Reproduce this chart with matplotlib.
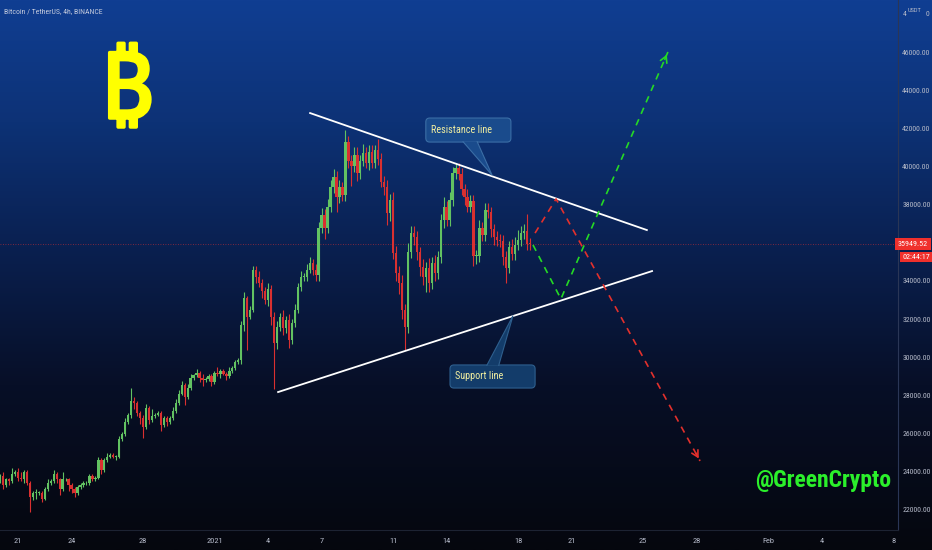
import numpy as np
import pandas as pd
import matplotlib
matplotlib.use("Agg")
import matplotlib.pyplot as plt
import matplotlib.dates as mdates
import matplotlib.patheffects as pe
from matplotlib.patches import Polygon, FancyBboxPatch
from matplotlib.colors import LinearSegmentedColormap

plt.rcParams["font.family"] = ["Roboto Condensed", "Roboto", "DejaVu Sans"]

# ---- data (4h candles, BTC/USDT, prices in thousands) ----
first_candle = "2020-12-20 00:00"
first_open_k = 23.6
closes_k = [
    23.8, 23.3, 23.6, 23.5, 23.9, 24.0, 23.7, 23.6, 24.0, 23.4,
    22.7, 22.9, 22.9, 22.9, 22.6, 23.1, 23.4, 23.5, 23.9, 23.6,
    23.1, 23.6, 23.6, 23.3, 23.1, 22.9, 23.2, 23.3, 23.4, 23.4,
    23.8, 23.6, 23.7, 24.6, 24.1, 24.6, 24.8, 24.9, 24.8, 24.8,
    25.7, 26.0, 26.6, 27.0, 27.7, 27.6, 27.1, 26.8, 26.35, 27.35,
    26.7, 26.9, 27.0, 27.1, 26.45, 26.8, 26.6, 26.8, 27.2, 27.6,
    28.1, 28.55, 27.9, 28.4, 28.9, 29.05, 29.2, 28.9, 28.8, 28.85,
    29.0, 28.7, 29.2, 29.1, 29.3, 29.15, 29.0, 29.3, 29.45, 29.75,
    29.85, 31.7, 33.1, 32.1, 32.5, 34.6, 34.2, 33.9, 33.5, 33.0,
    33.6, 32.1, 30.75, 31.6, 32.1, 31.55, 31.95, 30.9, 31.8, 32.5,
    33.7, 34.2, 34.2, 34.6, 34.95, 34.6, 34.3, 36.8, 37.45, 36.8,
    37.9, 38.9, 39.45, 38.4, 38.9, 38.5, 41.3, 40.3, 40.0, 40.6,
    39.65, 40.3, 40.7, 40.2, 40.75, 40.2, 40.85, 40.4, 39.2, 38.9,
    37.55, 38.25, 35.45, 34.4, 33.9, 32.5, 31.6, 35.5, 36.5, 36.3,
    35.5, 34.75, 34.2, 34.7, 33.9, 34.95, 34.4, 35.25, 37.2, 37.9,
    37.2, 38.25, 39.65, 39.9, 39.6, 38.8, 38.4, 37.9, 38.2, 35.3,
    35.3, 36.8, 36.4, 37.7, 37.6, 36.7, 36.3, 36.15, 36.1, 35.25,
    34.7, 35.8, 35.4, 35.9, 36.15, 36.5, 36.6, 35.95, 35.94952,
]
# wicks beyond the body, in hundreds of USDT
wick_up = [
    1, 2, 1, 1, 3, 1, 2, 3, 1, 1,
    1, 1, 2, 1, 1, 1, 2, 1, 2, 1,
    1, 4, 1, 1, 1, 1, 1, 1, 1, 1,
    1, 1, 1, 2, 1, 1, 2, 1, 1, 1,
    2, 1, 2, 1, 7, 2, 1, 1, 2, 2,
    1, 4, 1, 1, 1, 1, 1, 1, 2, 2,
    2, 2, 1, 2, 2, 1, 2, 1, 2, 1,
    1, 1, 1, 3, 1, 1, 1, 2, 1, 1,
    1, 2, 3, 1, 2, 2, 2, 3, 2, 2,
    3, 2, 3, 3, 2, 4, 2, 3, 2, 3,
    2, 3, 2, 3, 3, 2, 3, 3, 4, 3,
    4, 4, 4, 3, 4, 3, 6, 3, 3, 4,
    4, 3, 5, 3, 4, 4, 3, 6, 3, 3,
    4, 3, 4, 4, 4, 4, 3, 5, 4, 4,
    3, 3, 4, 3, 5, 3, 4, 3, 3, 5,
    3, 4, 3, 3, 3, 3, 3, 4, 3, 3,
    3, 4, 3, 4, 4, 3, 3, 3, 3, 3,
    3, 3, 4, 4, 5, 4, 4, 9, 3,
]
wick_dn = [
    2, 2, 1, 2, 1, 1, 2, 1, 2, 1,
    8, 2, 3, 1, 2, 1, 1, 1, 1, 2,
    3, 1, 1, 3, 2, 2, 1, 1, 1, 1,
    1, 1, 1, 1, 2, 1, 1, 1, 1, 2,
    1, 1, 1, 1, 2, 3, 2, 3, 6, 1,
    2, 1, 1, 1, 3, 1, 2, 1, 1, 1,
    1, 1, 4, 1, 1, 1, 1, 2, 3, 1,
    1, 2, 1, 1, 2, 1, 2, 1, 1, 1,
    1, 2, 3, 17, 1, 1, 3, 2, 4, 2,
    3, 4, 24, 3, 2, 4, 3, 4, 2, 2,
    2, 2, 2, 2, 2, 3, 3, 3, 3, 6,
    3, 3, 3, 8, 3, 3, 3, 4, 10, 3,
    4, 3, 3, 3, 4, 3, 3, 3, 3, 4,
    6, 4, 3, 4, 6, 5, 12, 3, 3, 4,
    4, 5, 4, 8, 5, 3, 4, 3, 3, 4,
    3, 3, 3, 3, 3, 3, 4, 3, 3, 5,
    4, 3, 3, 3, 3, 4, 4, 3, 3, 4,
    8, 3, 3, 3, 3, 3, 3, 3, 3,
]

# drawn analysis (date, price)
resistance_t = ["2021-01-06 08:30", "2021-01-25 05:00"]
resistance_p = [42800, 36670]
support_t = ["2021-01-04 13:30", "2021-01-25 12:00"]
support_p = [28180, 34520]
bear_t = ["2021-01-18 22:45", "2021-01-20 03:00", "2021-01-28 04:30"]
bear_p = [36510, 38300, 24570]
bull_t = ["2021-01-18 20:00", "2021-01-20 09:30", "2021-01-26 09:20"]
bull_p = [35890, 33060, 46000]

price_ticks = [22000, 24000, 26000, 28000, 30000, 32000, 34000,
               38000, 40000, 42000, 44000, 46000]
date_ticks = ["2020-12-21", "2020-12-24", "2020-12-28", "2021-01-01",
              "2021-01-04", "2021-01-07", "2021-01-11", "2021-01-14",
              "2021-01-18", "2021-01-21", "2021-01-25", "2021-01-28",
              "2021-02-01", "2021-02-04", "2021-02-08"]
date_labels = ["21", "24", "28", "2021", "4", "7", "11", "14", "18",
               "21", "25", "28", "Feb", "4", "8"]

# ---- derived OHLC ----
times = pd.date_range(first_candle, periods=len(closes_k), freq="4h")
x = mdates.date2num(times)
close = np.array(closes_k) * 1000
open_ = np.concatenate([[first_open_k * 1000], close[:-1]])
high = np.maximum(open_, close) + np.array(wick_up) * 100
low = np.minimum(open_, close) - np.array(wick_dn) * 100
up = close >= open_

GREEN = "#62c262"
RED = "#d93030"
AXIS_TXT = "#b4b9c8"


def to_num(ts):
    return mdates.date2num(pd.to_datetime(ts))


fig = plt.figure(figsize=(9.32, 5.5), dpi=100)

# background gradient
bg = fig.add_axes([0, 0, 1, 1])
cmap = LinearSegmentedColormap.from_list(
    "bg",
    [(0.0, "#103e92"), (0.22, "#0d3276"), (0.45, "#0a2050"),
     (0.7, "#070f27"), (1.0, "#05070e")]
)
bg.imshow(np.linspace(0, 1, 256).reshape(-1, 1), aspect="auto",
          cmap=cmap, extent=[0, 1, 0, 1])
bg.axis("off")

ax = fig.add_axes([0, 20 / 550, 898 / 932, 530 / 550])
ax.patch.set_alpha(0)

base = pd.Timestamp("2020-12-21")
ax.set_xlim(mdates.date2num(base + pd.Timedelta(days=-1.008)),
            mdates.date2num(base + pd.Timedelta(days=49.27)))
ax.set_ylim(20951, 48725)

# candles
colors = np.where(up, GREEN, RED)
ax.vlines(x, low, high, colors=colors, lw=0.8, zorder=3)
body = np.maximum(np.abs(close - open_), 40)
ax.bar(x, body, bottom=np.minimum(open_, close), width=0.13,
       color=colors, lw=0, zorder=4)

# last price line
ax.axhline(close[-1], color="#e03030", lw=0.6, ls=(0, (1, 2)),
           alpha=0.7, zorder=2)

# triangle lines
ax.plot(to_num(resistance_t), resistance_p, color="white", lw=1.3, zorder=5)
ax.plot(to_num(support_t), support_p, color="white", lw=1.3, zorder=5)

# scenario paths
for ts, ps, c in [(bear_t, bear_p, "#e3302c"), (bull_t, bull_p, "#25d925")]:
    xs = to_num(ts)
    ax.plot(xs, ps, color=c, lw=1.2, ls=(0, (4, 3.5)), zorder=6)
    tail = (xs[-1] - (xs[-1] - xs[-2]) * 0.04,
            ps[-1] - (ps[-1] - ps[-2]) * 0.04)
    ax.annotate("", xy=(xs[-1], ps[-1]), xytext=tail,
                arrowprops=dict(arrowstyle="->,head_length=0.45,head_width=0.25",
                                color=c, lw=1.2), zorder=6)


# callouts
def callout(text, box_t, box_p, tri_t, tri_p, fc, ec):
    bx = to_num(box_t)
    box = FancyBboxPatch((bx[0], box_p[0]), bx[1] - bx[0], box_p[1] - box_p[0],
                         boxstyle="round,pad=0,rounding_size=0.22",
                         mutation_aspect=930, fc=fc, ec=ec, lw=0.8, zorder=7)
    ax.add_patch(box)
    tx = to_num(tri_t)
    ax.add_patch(Polygon(list(zip(tx, tri_p)), closed=True, fc=fc, ec="none",
                         zorder=8))
    ax.plot([tx[0], tx[2], tx[1]], [tri_p[0], tri_p[2], tri_p[1]],
            color=ec, lw=0.8, zorder=8)
    ax.text(bx[0] + 0.3, (box_p[0] + box_p[1]) / 2, text, color="#f0eea0",
            fontsize=7.4, ha="left", va="center", zorder=9)


callout("Resistance line",
        ["2021-01-12 20:00", "2021-01-17 14:20"], [41280, 42540],
        ["2021-01-14 22:00", "2021-01-15 17:00", "2021-01-16 13:00"],
        [41300, 41300, 39550], "#1a4b8c", "#3b6ea6")
callout("Support line",
        ["2021-01-14 04:30", "2021-01-18 22:50"], [28390, 29600],
        ["2021-01-16 06:00", "2021-01-16 22:00", "2021-01-17 17:00"],
        [29580, 29580, 32170], "#133c6a", "#2e5f8e")

# axes styling
for s in ["top", "left"]:
    ax.spines[s].set_visible(False)
ax.spines["right"].set_color("#2a3656")
ax.spines["bottom"].set_color("#1d2333")
ax.spines["right"].set_linewidth(0.8)
ax.spines["bottom"].set_linewidth(0.8)

ax.yaxis.tick_right()
ax.set_yticks(price_ticks)
ax.set_yticklabels([f"{v:.2f}" for v in price_ticks])
ax.tick_params(axis="y", length=0, pad=3, labelsize=5.6, labelcolor=AXIS_TXT)
ax.set_xticks(to_num(date_ticks))
ax.set_xticklabels(date_labels)
ax.tick_params(axis="x", length=0, pad=6, labelsize=6.0, labelcolor=AXIS_TXT)

# price tag
ax.text(1.0, close[-1], f"{close[-1]:.2f}", transform=ax.get_yaxis_transform(),
        ha="left", va="center", color="white", fontsize=5.8, clip_on=False,
        bbox=dict(boxstyle="square,pad=0.35", fc="#f0302c", ec="none"), zorder=10)
ax.annotate("02:44:17", xy=(1.0, close[-1]), xycoords=ax.get_yaxis_transform(),
            xytext=(3.2, -9.5), textcoords="offset points", ha="left", va="center",
            color="white", fontsize=5.8, annotation_clip=False,
            bbox=dict(boxstyle="square,pad=0.3", fc="#f0302c", ec="none"))

fig.text(903 / 932, 1 - 14 / 550, "4", color=AXIS_TXT, fontsize=5.6,
         ha="left", va="center")
fig.text(908 / 932, 1 - 10 / 550, "USDT", color=AXIS_TXT, fontsize=4.6,
         ha="left", va="center")
fig.text(926 / 932, 1 - 14 / 550, "0", color=AXIS_TXT, fontsize=5.6,
         ha="left", va="center")

# header, logo, watermark
ax.text(0.0045, 0.979, "Bitcoin / TetherUS, 4h, BINANCE", transform=ax.transAxes,
        color="#c3cadc", fontsize=5.6, ha="left", va="center")
ax.text(0.1414, 0.8226, "\u20bf", transform=ax.transAxes, color="#ffff00",
        fontsize=66, fontweight="bold", ha="center", va="center",
        family=["Noto Sans", "Roboto", "DejaVu Sans"],
        path_effects=[pe.withStroke(linewidth=2.5, foreground="#ffff00")])
ax.text(0.9165, 0.0925, "@GreenCrypto", transform=ax.transAxes, color="#2bf02b",
        fontsize=17, fontweight="bold", ha="center", va="center")

fig.savefig("out.png", dpi=100)
